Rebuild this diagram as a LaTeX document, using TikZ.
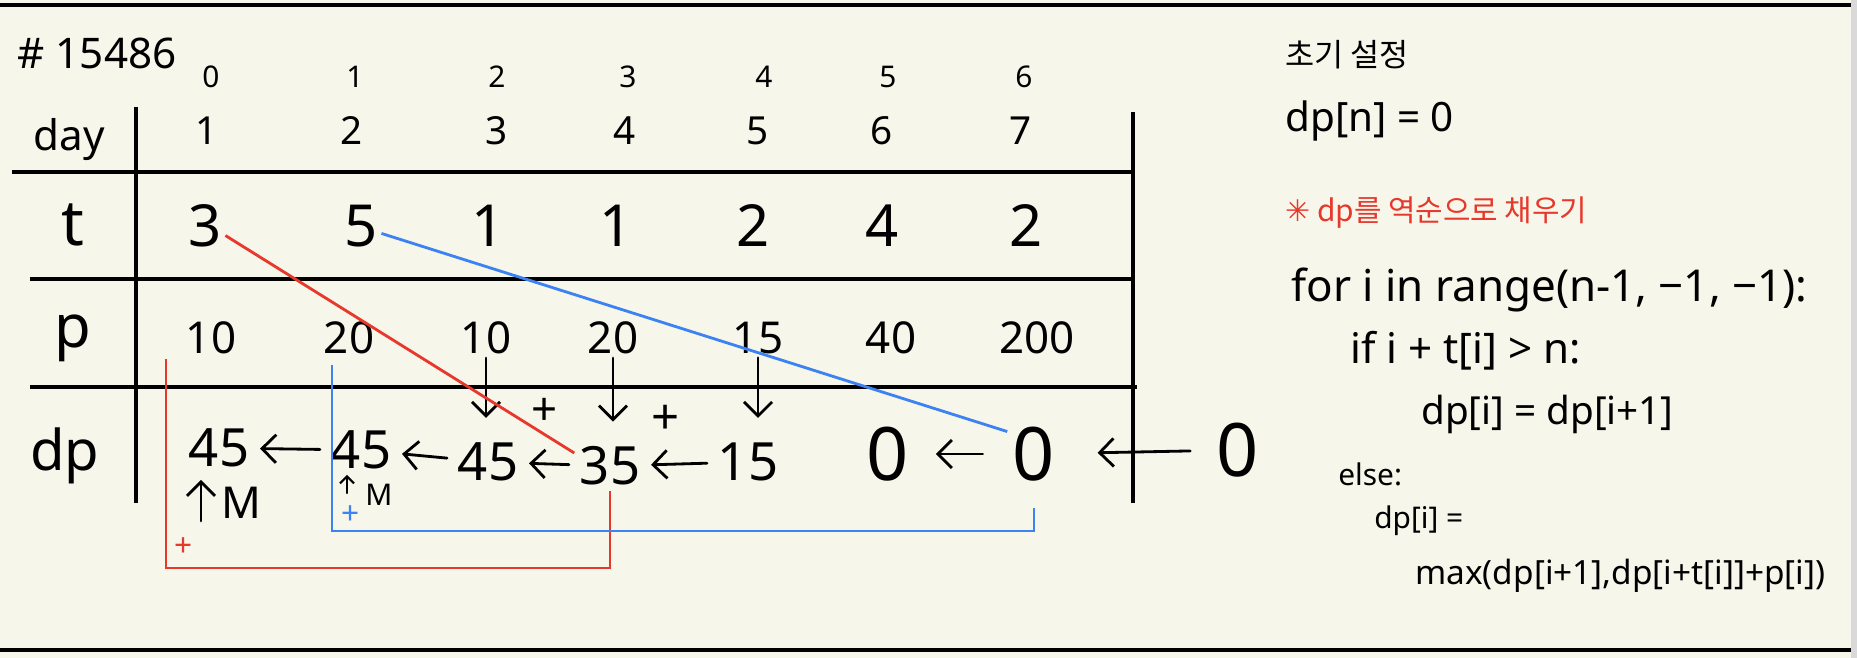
\documentclass[tikz,border=0pt]{standalone}
\usepackage{fontspec}
\setmainfont{Noto Sans}
\newfontfamily\krfont{Noto Sans CJK KR}
\newfontfamily\symfont{DejaVu Sans}
\usepackage{tikz}
\usetikzlibrary{arrows.meta,positioning}
\usepackage{xcolor}
\definecolor{paper}{HTML}{F6F6EA}
\definecolor{penred}{HTML}{E8372B}
\definecolor{penblue}{HTML}{3D82F2}
\newcommand{\fsz}[1]{\fontsize{#1}{#1}\selectfont}

\begin{document}
\begin{tikzpicture}[
    x=0.02cm, y=-0.02cm,
    pen/.style={line width=1.6pt, line cap=round},
    rule/.style={line width=1.8pt},
    arr/.style={pen, -{Straight Barb[length=8pt,width=16pt]}},
    smallarr/.style={pen, line width=1.2pt, -{Straight Barb[length=4pt,width=8pt]}},
    redpen/.style={line width=1.6pt, penred},
    bluepen/.style={line width=1.6pt, penblue},
    cell/.style={inner sep=2pt},
    idxtxt/.style={cell, font=\fsz{17}},
    daytxt/.style={cell, font=\fsz{22}},
    ttxt/.style={cell, font=\fsz{33}},
    ptxt/.style={cell, font=\fsz{25}},
    dptxt/.style={cell, inner sep=3pt, font=\fsz{30}},
    zerotxt/.style={cell, inner sep=3pt, font=\fsz{42}},
    rowhead/.style={cell, font=\fsz{34}},
    plustxt/.style={inner sep=0pt, font=\fsz{28}},
    code/.style={anchor=west, inner sep=0pt},
]
\useasboundingbox (0,0) rectangle (1857,658);

% paper
\fill[paper] (0,0) rectangle (1851,658);
\fill[black!15] (1851,0) rectangle (1857,658);
\draw[line width=2.3pt] (0,5) -- (1851,5);
\draw[line width=2.3pt] (0,650) -- (1851,650);

% table rules
\draw[rule] (136,107) -- (136,503);
\draw[rule] (1133,112) -- (1133,503);
\draw[rule] (12,172) -- (1133,172);
\draw[rule] (30,279) -- (1133,279);
\draw[rule] (30,387) -- (1137,387);

\node[cell, font=\fsz{24}] (title) at (97,53) {\# 15486};

% row heads
\node[cell, font=\fsz{24}] (dayhd) at (69,140) {day};
\node[rowhead, font=\fsz{36}] (thd) at (73,225) {t};
\node[rowhead] (phd) at (73,338) {p};
\node[rowhead, font=\fsz{32}] (dphd) at (65,456) {dp};

% index / day / t / p rows
\foreach \i/\x in {0/211,1/355,2/497,3/628,4/764,5/888,6/1024}
  \node[idxtxt] (idx\i) at (\x,77) {\i};
\foreach \i/\x/\v in {0/207/1,1/352/2,2/497/3,3/625/4,4/758/5,5/882/6,6/1021/7}
  \node[daytxt] (day\i) at (\x,131) {\v};
\foreach \i/\x/\v in {0/205/3,1/361/5,2/488/1,3/616/1,4/753/2,5/882/4,6/1026/2}
  \node[ttxt] (t\i) at (\x,226) {\v};
\foreach \i/\x/\v in {0/211/10,1/349/20,2/486/10,3/613/20,4/758/15,5/891/40,6/1037/200}
  \node[ptxt] (p\i) at (\x,338) {\v};

% dp row
\node[dptxt] (dp0) at (219,448) {45};
\node[dptxt] (dp1) at (361,450) {45};
\node[dptxt] (dp2) at (488,462) {45};
\node[dptxt] (dp3) at (610,466) {35};
\node[dptxt] (dp4) at (748,462) {15};
\node[zerotxt] (dp5) at (888,454) {0};
\node[zerotxt] (dp6) at (1034,454) {0};
\node[zerotxt] (dp7) at (1238,450) {0};

\foreach \a/\b in {1/0,2/1,3/2,4/3}
  \draw[arr, shorten >=3pt, shorten <=3pt] (dp\a) -- (dp\b);
\draw[arr, shorten >=12pt, shorten <=14pt] (dp6) -- (dp5);
\draw[arr, shorten >=21pt, shorten <=12pt] (dp7) -- (dp6);

% p[i] added into dp[i]
\foreach \i in {2,3,4}
  \draw[arr, shorten >=11pt] (p\i.south) -- (p\i.south |- dp\i.north);
\node[plustxt, font=\fsz{26}] (plus2) at (545,412) {+};
\node[plustxt] (plus3) at (666,420) {+};

% max marks
\coordinate (up0) at (201,521);
\coordinate (up1) at (347,493);
\draw[arr, shorten >=4pt] (up0) -- (up0 |- dp0.south);
\draw[smallarr] (up1) -- (up1 |- dp1.south);
\node[cell, font=\fsz{25}] (mlab0) at (241,503) {M};
\node[cell, font=\fsz{17}] (mlab1) at (379,495) {M};

% red path: dp[3] + p[0]
\draw[redpen] (t0.-25) -- (dp3.160);
\coordinate (redtop) at (166,359);
\coordinate (redbot) at (166,568);
\draw[redpen] (redtop) -- (redbot) -| (dp3.south);
\node[plustxt, font=\fsz{18}, text=penred] (redplus) at (184,547) {+};

% blue path: dp[6] + p[1]
\draw[bluepen] (t1.-20) -- (dp6.140);
\coordinate (bluetop) at (332,365);
\coordinate (bluebot) at (332,531);
\draw[bluepen, shorten >=12pt] (bluetop) -- (bluebot) -| (dp6.south);
\node[plustxt, font=\fsz{18}, text=penblue] (blueplus) at (351,515) {+};

% notes
\node[code, font=\krfont\fsz{18}] (init) at (1285,55) {초기 설정};
\node[code, font=\fsz{23}] (dpn) at (1285,121) {dp[n] = 0};
\node[code, font=\krfont\fsz{17}, text=penred] (note) at (1285,213) {{\symfont ✳} dp를 역순으로 채우기};
\node[code, font=\fsz{25}] (loop) at (1291,290) {for i in range(n-1, −1, −1):};
\node[code, font=\fsz{24}] (cond) at (1350,351) {if i + t[i] > n:};
\node[code, font=\fsz{22}] (skip) at (1421,414) {dp[i] = dp[i+1]};
\node[code, font=\fsz{17}] (els) at (1338,474) {else:};
\node[code, font=\fsz{17}] (upd) at (1374,521) {dp[i] =};
\node[code, font=\fsz{19}] (maxexpr) at (1415,576) {max(dp[i+1],dp[i+t[i]]+p[i])};
\end{tikzpicture}
\end{document}
